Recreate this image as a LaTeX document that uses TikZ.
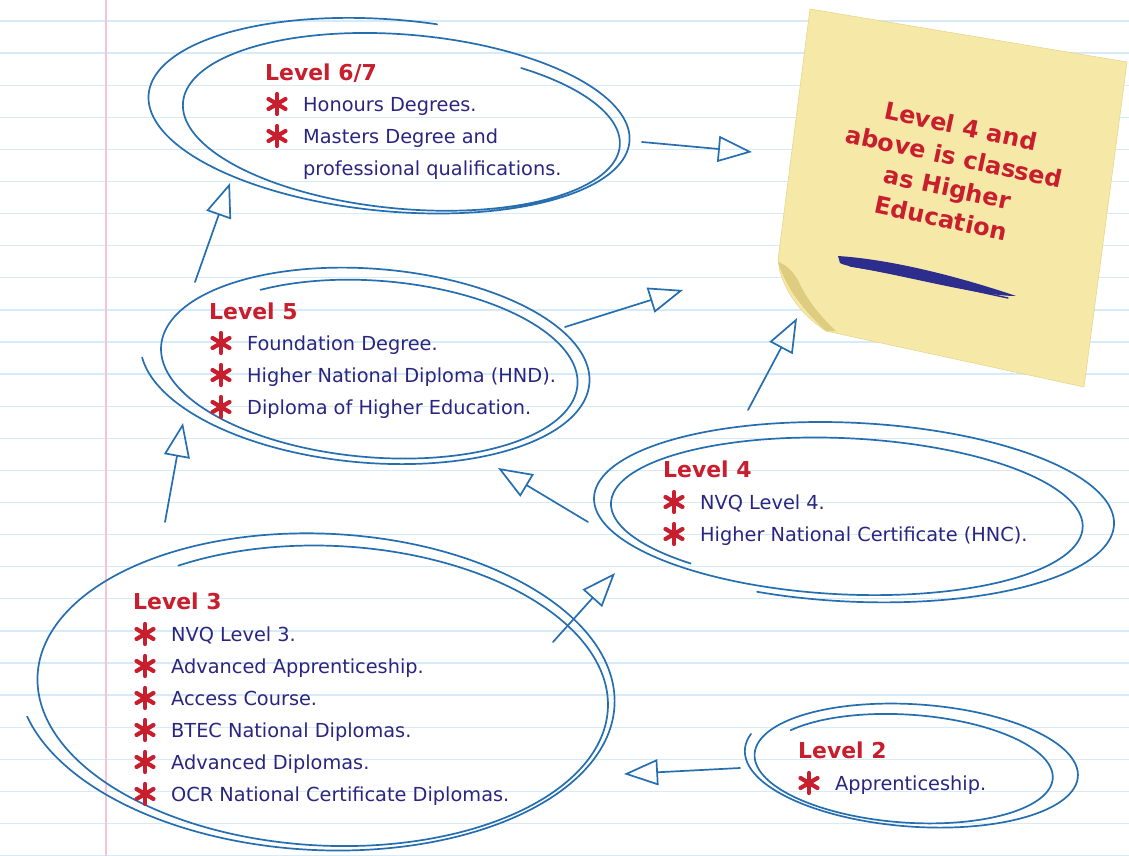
\documentclass[tikz,border=0pt]{standalone}
\usepackage{fontspec}
\setmainfont{DejaVu Sans}
\usetikzlibrary{arrows.meta}
\definecolor{sk}{RGB}{37,110,175}
\definecolor{navy}{RGB}{42,38,128}
\definecolor{hred}{RGB}{200,30,45}
\definecolor{rule}{RGB}{214,234,248}
\definecolor{margin}{RGB}{246,196,214}
\definecolor{notey}{RGB}{246,233,168}
\definecolor{noteedge}{RGB}{232,214,140}
\definecolor{curl}{RGB}{218,198,117}
\definecolor{ink}{RGB}{44,45,140}
\tikzset{
  sketch/.style={draw=sk, line width=1.7bp, line cap=round, line join=round},
  sarrow/.style={sketch, -{Triangle[open, length=34bp, width=26bp]}},
  head/.style={anchor=base west, inner sep=0pt, text=hred, font=\bfseries\fontsize{22}{26}\selectfont},
  itm/.style={anchor=base west, inner sep=0pt, text=navy, font=\fontsize{19.4}{23}\selectfont},
  notetext/.style={align=center, inner sep=0pt, text=hred, font=\bfseries\fontsize{24}{31.5}\selectfont},
  starmark/.pic={
    \draw[hred, line width=4.2bp, line cap=round] (0,-10) -- (0,10);
    \draw[hred, line width=4.2bp, line cap=round] (-8.5,-5) -- (8.5,5);
    \draw[hred, line width=4.2bp, line cap=round] (-8.5,5) -- (8.5,-5);
  }
}
% spiral loop: #1 cx1 #2 cy1 #3 cx2 #4 cy2 #5 rx1 #6 ry1 #7 rx2 #8 ry2 #9 rot; uses \ta (start angle), \tb (sweep)
\newcommand\sloop[9]{%
  \draw[sketch] plot[variable=\t, domain=0:1, samples=220, smooth]
  ({(#1)+((#3)-(#1))*\t + ((#5)+((#7)-(#5))*\t)*cos(\ta+\tb*\t)*cos(#9) - ((#6)+((#8)-(#6))*\t)*sin(\ta+\tb*\t)*sin(#9)},
   {(#2)+((#4)-(#2))*\t + ((#5)+((#7)-(#5))*\t)*cos(\ta+\tb*\t)*sin(#9) + ((#6)+((#8)-(#6))*\t)*sin(\ta+\tb*\t)*cos(#9)});
}
\newcommand\entry[4]{%
  \pic at (#2-26,#3-7.5) {starmark};
  \node[itm] (#1) at (#2,#3) {#4};
}
\begin{document}
\begin{tikzpicture}[x=1bp,y=-1bp]
\useasboundingbox (0,0) rectangle (1129,856);
\fill[white] (0,0) rectangle (1129,856);
% ruled paper
\foreach \k in {0,...,26}{
  \draw[rule, line width=1.3bp] (0,21+32.1*\k) -- (1129,21+32.1*\k);
}
\draw[margin, line width=1.5bp] (106,0) -- (106,856);

% sticky note
\path[fill=notey, draw=noteedge, line width=0.6bp]
  (810,9) -- (1127,62) -- (1084,387) -- (826,331)
  .. controls (806,318) and (788,298) .. (780,272) -- (778,260) -- cycle;
\path[fill=curl, opacity=0.8]
  (778,262) .. controls (786,288) and (803,310) .. (826,331)
  -- (836,331) .. controls (818,314) and (806,298) .. (798,280)
  .. controls (792,270) and (785,264) .. cycle;
\path[fill=ink] (838,256) .. controls (900,260) and (975,282) .. (1016,296)
  .. controls (985,296) and (930,282) .. (880,272)
  .. controls (860,268) and (845,266) .. (840,263) -- cycle;
\draw[ink, line width=1.4bp, line cap=round] (850,266) .. controls (905,274) and (960,288) .. (1008,298);
\node[notetext, rotate=-12] (note) at (951,172) {Level 4 and\\above is classed\\as Higher\\Education};

% loops (\ta start angle, \tb sweep)
\def\ta{300}\def\tb{700}
\sloop{412}{128}{388}{116}{207}{80}{250}{97}{5}
\def\ta{232}\def\tb{660}
\sloop{376}{368}{368}{362}{198}{86}{228}{102}{5}
\def\ta{130}\def\tb{700}
\sloop{838}{516}{852}{508}{225}{72}{272}{94}{3}
\def\ta{235}\def\tb{650}
\sloop{330}{695}{318}{688}{276}{148}{300}{163}{3}
\def\ta{215}\def\tb{700}
\sloop{903}{768}{918}{762}{140}{52}{174}{66}{4}

% arrow end points
\coordinate (a1s) at (642,142); \coordinate (a1e) at (752,152);
\coordinate (a2s) at (195,282); \coordinate (a2e) at (230,183);
\coordinate (a3s) at (565,327); \coordinate (a3e) at (683,290);
\coordinate (a4s) at (748,410); \coordinate (a4e) at (797,318);
\coordinate (a5s) at (588,522); \coordinate (a5e) at (498,468);
\coordinate (a6s) at (165,522); \coordinate (a6e) at (183,423);
\coordinate (a7s) at (553,642); \coordinate (a7e) at (615,573);
\coordinate (a8s) at (740,768); \coordinate (a8e) at (624,774);
\draw[sarrow] (a1s) -- (a1e);
\draw[sarrow] (a2s) -- (a2e);
\draw[sarrow] (a3s) -- (a3e);
\draw[sarrow] (a4s) -- (a4e);
\draw[sarrow] (a5s) -- (a5e);
\draw[sarrow] (a6s) -- (a6e);
\draw[sarrow] (a7s) -- (a7e);
\draw[sarrow] (a8s) -- (a8e);

% Level 6/7
\node[head] (h67) at (265,80) {Level 6/7};
\entry{i67a}{303}{111.5}{Honours Degrees.}
\entry{i67b}{303}{143.5}{Masters Degree and}
\node[itm] (i67c) at (303,175.5) {professional qualifications.};
% Level 5
\node[head] (h5) at (209,319) {Level 5};
\entry{i5a}{247}{350.5}{Foundation Degree.}
\entry{i5b}{247}{382.5}{Higher National Diploma (HND).}
\entry{i5c}{247}{414.5}{Diploma of Higher Education.}
% Level 4
\node[head] (h4) at (663,477) {Level 4};
\entry{i4a}{700}{509.5}{NVQ Level 4.}
\entry{i4b}{700}{541.5}{Higher National Certificate (HNC).}
% Level 3
\node[head] (h3) at (133,609) {Level 3};
\entry{i3a}{171}{641.5}{NVQ Level 3.}
\entry{i3b}{171}{673.5}{Advanced Apprenticeship.}
\entry{i3c}{171}{705.5}{Access Course.}
\entry{i3d}{171}{737.5}{BTEC National Diplomas.}
\entry{i3e}{171}{769.5}{Advanced Diplomas.}
\entry{i3f}{171}{801.5}{OCR National Certificate Diplomas.}
% Level 2
\node[head] (h2) at (798,758) {Level 2};
\entry{i2a}{835}{790.5}{Apprenticeship.}
\end{tikzpicture}
\end{document}
